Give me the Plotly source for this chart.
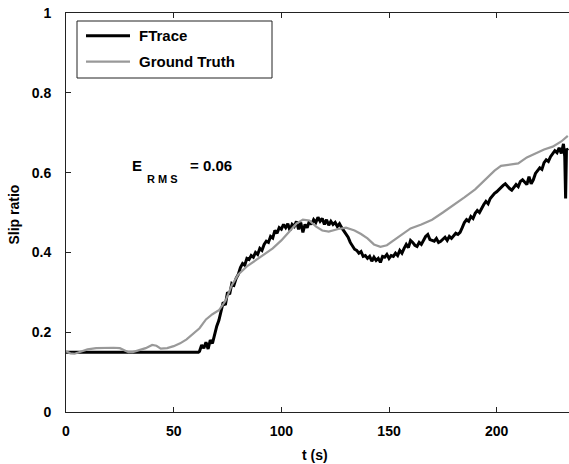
import plotly.graph_objects as go

# ---------------- data ----------------
ftrace_t = [0, 61.5] + list(range(62, 232)) + [231.6, 232.0, 232.4, 233]
ftrace_y = [0.150, 0.150,
    0.152, 0.168, 0.160, 0.175, 0.158, 0.180, 0.172, 0.195, 0.215,   # 62-70
    0.230, 0.255, 0.275, 0.268, 0.300, 0.295, 0.322, 0.318, 0.335, 0.345,  # 71-80
    0.362, 0.372, 0.368, 0.385, 0.382, 0.392, 0.388, 0.400, 0.395, 0.410,  # 81-90
    0.405, 0.420, 0.428, 0.425, 0.440, 0.436, 0.455, 0.448, 0.462, 0.458,  # 91-100
    0.470, 0.462, 0.472, 0.455, 0.470, 0.465, 0.478, 0.458, 0.475, 0.450,  # 101-110
    0.470, 0.462, 0.478, 0.470, 0.482, 0.475, 0.488, 0.478, 0.485, 0.470,  # 111-120
    0.482, 0.468, 0.478, 0.470, 0.475, 0.465, 0.472, 0.462, 0.455, 0.445,  # 121-130
    0.438, 0.425, 0.418, 0.408, 0.405, 0.398, 0.402, 0.390, 0.392, 0.385,  # 131-140
    0.390, 0.378, 0.388, 0.380, 0.385, 0.375, 0.390, 0.388, 0.395, 0.385,  # 141-150
    0.392, 0.390, 0.398, 0.392, 0.405, 0.398, 0.410, 0.420, 0.412, 0.430,  # 151-160
    0.425, 0.418, 0.415, 0.425, 0.420, 0.432, 0.440, 0.445, 0.432, 0.430,  # 161-170
    0.428, 0.435, 0.425, 0.428, 0.432, 0.438, 0.430, 0.440, 0.435, 0.442,  # 171-180
    0.448, 0.445, 0.450, 0.462, 0.475, 0.482, 0.478, 0.490, 0.485, 0.498,  # 181-190
    0.505, 0.500, 0.512, 0.520, 0.528, 0.522, 0.535, 0.542, 0.548, 0.552,  # 191-200
    0.558, 0.562, 0.568, 0.572, 0.565, 0.560, 0.556, 0.562, 0.570, 0.565,  # 201-210
    0.578, 0.582, 0.575, 0.570, 0.590, 0.572, 0.582, 0.598, 0.605, 0.612,  # 211-220
    0.608, 0.625, 0.632, 0.628, 0.640, 0.648, 0.655, 0.650, 0.662, 0.648,  # 221-230
    0.672,                                                                # 231
    0.640, 0.535, 0.660, 0.655]

truth_t = [0, 2, 4, 7, 10, 14, 18, 22, 25, 27, 29, 31, 34, 37, 40, 42, 44, 47,
           50, 53, 56, 59, 62, 65, 68, 71, 74, 77, 80, 84, 88, 92, 96, 100,
           104, 107, 110, 113, 116, 119, 122, 126, 130, 134, 137, 140, 143,
           146, 149, 152, 156, 160, 165, 170, 175, 180, 185, 190, 195, 199,
           202, 206, 210, 214, 218, 222, 226, 230, 233]
truth_y = [0.152, 0.147, 0.146, 0.152, 0.157, 0.160, 0.161, 0.161, 0.160, 0.156,
           0.150, 0.150, 0.156, 0.160, 0.168, 0.166, 0.159, 0.160, 0.165, 0.172,
           0.182, 0.195, 0.210, 0.232, 0.245, 0.255, 0.278, 0.318, 0.345, 0.365,
           0.380, 0.393, 0.410, 0.430, 0.455, 0.472, 0.482, 0.480, 0.465, 0.455,
           0.452, 0.458, 0.462, 0.455, 0.446, 0.435, 0.420, 0.414, 0.418, 0.430,
           0.445, 0.460, 0.470, 0.482, 0.500, 0.518, 0.538, 0.558, 0.583, 0.605,
           0.617, 0.620, 0.623, 0.638, 0.648, 0.658, 0.665, 0.678, 0.692]

x_ticks = [0, 50, 100, 150, 200]
y_ticks = [0, 0.2, 0.4, 0.6, 0.8, 1]
y_tick_text = ["0", "0.2", "0.4", "0.6", "0.8", "1"]
series_names = ["FTrace", "Ground Truth"]
series_colors = ["#000000", "#999999"]

# ---------------- layout constants ----------------
W, H = 569, 464
L, R, T, B = 66, 0, 13, 52
PW, PH = W - L - R, H - T - B
FONT = "Liberation Sans, Arial, sans-serif"

def px_x(p):
    return (p - L) / PW

def px_y(p):
    return (H - B - p) / PH

def bold(s):
    return "<b>" + s + "</b>"

fig = go.Figure()
fig.add_trace(go.Scatter(x=ftrace_t, y=ftrace_y, mode="lines", name=series_names[0],
                         line=dict(color=series_colors[0], width=3), showlegend=False))
fig.add_trace(go.Scatter(x=truth_t, y=truth_y, mode="lines", name=series_names[1],
                         line=dict(color=series_colors[1], width=2.2), showlegend=False))

axis_common = dict(showgrid=False, zeroline=False, showline=True, linecolor="#222222",
                   linewidth=1, ticks="inside", ticklen=5, tickcolor="#222222",
                   tickfont=dict(family=FONT, size=14, color="black", weight="bold"))

fig.update_layout(
    width=W, height=H,
    margin=dict(l=L, r=R, t=T, b=B, pad=0),
    paper_bgcolor="white", plot_bgcolor="white",
    xaxis=dict(range=[0, PW / 2.1535], tickvals=x_ticks, mirror="ticks",
               ticklabelstandoff=6, **axis_common),
    yaxis=dict(range=[0, 1], tickvals=y_ticks, ticktext=y_tick_text,
               ticklabelstandoff=11, **axis_common),
    showlegend=False,
)

# legend box (manual)
lx0, lx1, ly0, ly1 = 77, 272, 21, 78
fig.add_shape(type="rect", xref="paper", yref="paper",
              x0=px_x(lx0), x1=px_x(lx1), y0=px_y(ly1), y1=px_y(ly0),
              line=dict(color="#222222", width=1), fillcolor="white", layer="above")
for i, (nm, col, yy) in enumerate(zip(series_names, series_colors, [35.7, 61.7])):
    fig.add_shape(type="line", xref="paper", yref="paper",
                  x0=px_x(86), x1=px_x(130), y0=px_y(yy), y1=px_y(yy),
                  line=dict(color=col, width=3 if i == 0 else 2.2), layer="above")
    fig.add_annotation(x=px_x(136.5), y=px_y(yy), xref="paper", yref="paper",
                       text=bold(nm), showarrow=False, xanchor="left", yanchor="middle",
                       font=dict(family=FONT, size=15, color="black"))

# E_RMS annotation (E, subscript, value)
fig.add_annotation(x=px_x(129.5), y=px_y(165), xref="paper", yref="paper",
                   text=bold("E"), showarrow=False, xanchor="left", yanchor="middle",
                   font=dict(family=FONT, size=15, color="black"))
fig.add_annotation(x=px_x(144.5), y=px_y(178.5), xref="paper", yref="paper",
                   text=bold("R M S"), showarrow=False, xanchor="left", yanchor="middle",
                   font=dict(family=FONT, size=11, color="black"))
fig.add_annotation(x=px_x(187.5), y=px_y(165), xref="paper", yref="paper",
                   text=bold("= 0.06"), showarrow=False, xanchor="left", yanchor="middle",
                   font=dict(family=FONT, size=15, color="black"))

# axis titles
fig.add_annotation(x=px_x(315), y=px_y(455), xref="paper", yref="paper",
                   text=bold("t (s)"), showarrow=False, xanchor="center", yanchor="middle",
                   font=dict(family=FONT, size=14, color="black"))
fig.add_annotation(x=px_x(13.5), y=px_y(215), xref="paper", yref="paper",
                   text=bold("Slip ratio"), showarrow=False, textangle=-90,
                   xanchor="center", yanchor="middle",
                   font=dict(family=FONT, size=14, color="black"))

fig.write_html("out.html")
